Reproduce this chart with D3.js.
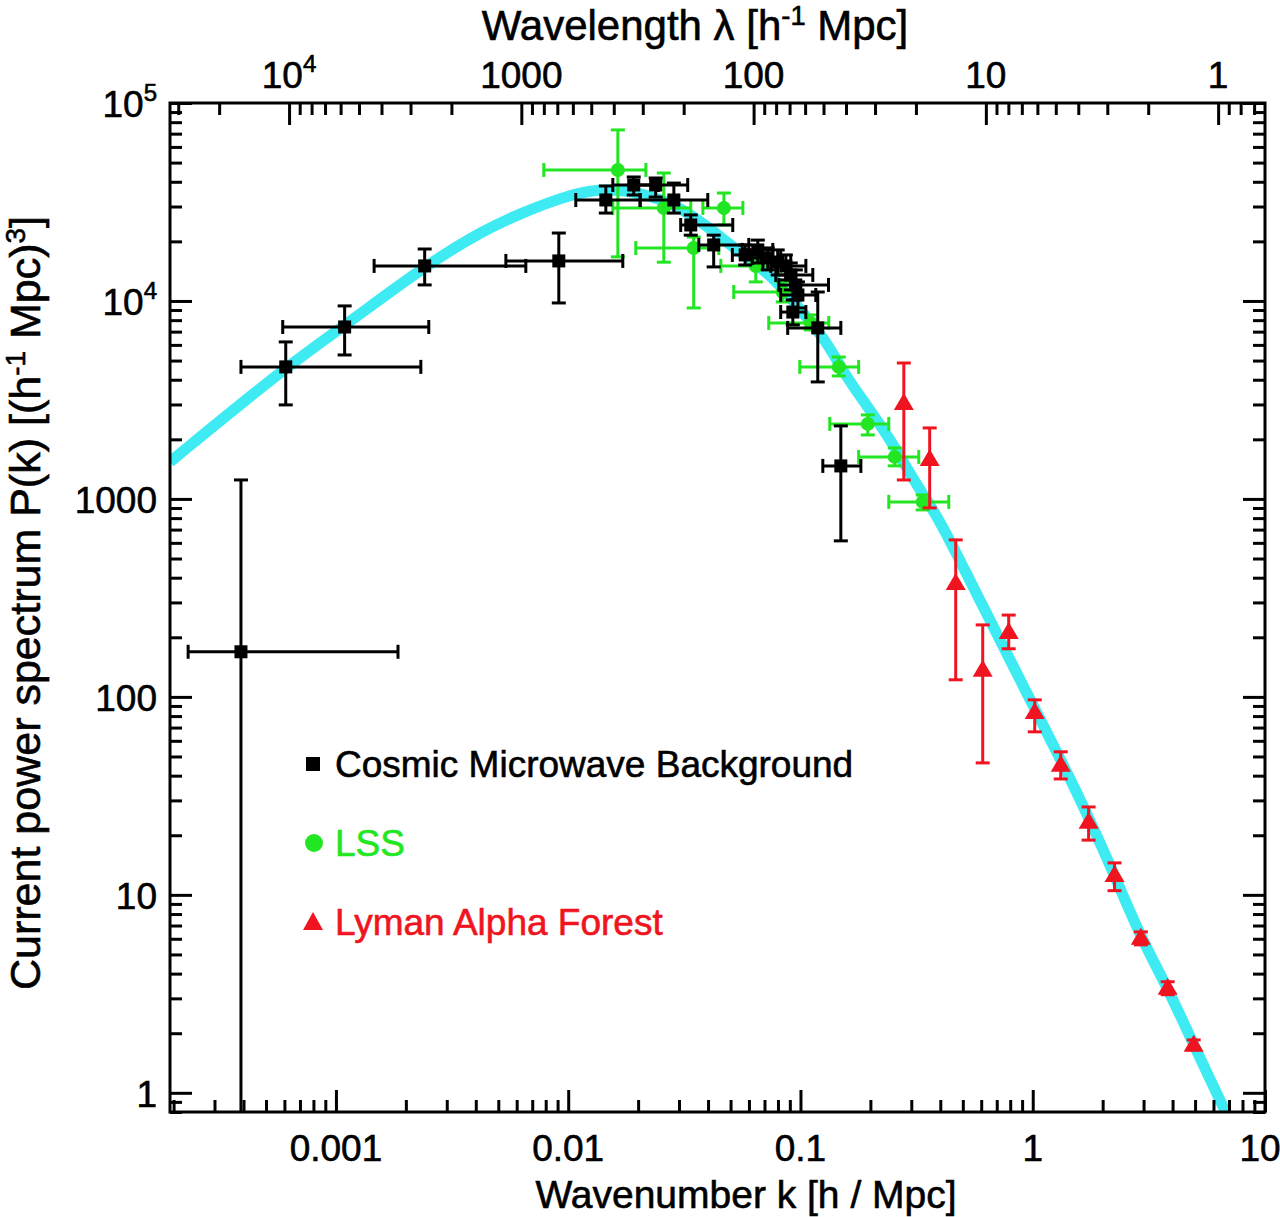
<!DOCTYPE html>
<html><head><meta charset="utf-8">
<script src="https://cdn.jsdelivr.net/npm/d3@7"></script>
<style>body{margin:0;background:#fff}svg{display:block}text{font-family:"Liberation Sans",Arial,Helvetica,sans-serif;stroke-width:0.6px}</style>
</head><body><svg id="c" width="1280" height="1217"></svg>
<script>
// ---- data ----
const curveK = [1.93e-4, 6.08e-4, 1.09e-3, 2.41e-3, 4.335e-3, 6.31e-3, 9.2e-3, 0.01355, 0.0205, 0.0305, 0.0399, 0.0553, 0.0767, 0.1, 0.1311, 0.1536, 0.1818, 0.2446, 0.2896, 0.3532, 0.4013, 0.591, 1.02, 1.562, 2.25, 2.92, 3.81, 4.93, 6.77, 7.3];
const curveP = [1538, 4645, 7500, 15030, 22860, 27800, 33110, 37200, 35540, 29850, 23650, 17470, 13210, 9000, 6134, 4326, 3273, 1986, 1400, 966, 765, 309, 87, 32.7, 12.6, 6.07, 3.39, 1.75, 0.80, 0.66];

const cmbK   = [3.90e-4, 6.08e-4, 1.09e-3, 2.41e-3, 9.11e-3, 0.01452, 0.01915, 0.0238, 0.0285, 0.0337, 0.0423, 0.0578, 0.0655, 0.0723, 0.0798, 0.0865, 0.0908, 0.0955, 0.0975, 0.0927, 0.1187, 0.1492];
const cmbP   = [169, 4645, 7390, 15030, 15930, 32370, 38540, 38540, 32370, 24200, 19190, 17080, 18110, 16490, 15730, 15030, 13530, 12050, 10720, 8790, 7310, 1468];
const cmbKlo = [2.31e-4, 3.90e-4, 5.9e-4, 1.46e-3, 5.39e-3, 0.01078, 0.01556, 0.0191, 0.0204, 0.0305, 0.0365, 0.0509, 0.0562, 0.0621, 0.0689, 0.0745, 0.0783, 0.0807, 0.0822, 0.0822, 0.0881, 0.1248];
const cmbKhi = [1.85e-3, 2.32e-3, 2.51e-3, 6.57e-3, 0.01718, 0.0204, 0.0245, 0.0327, 0.0399, 0.0511, 0.0599, 0.0675, 0.0760, 0.0822, 0.0908, 0.1055, 0.113, 0.132, 0.1164, 0.1055, 0.1492, 0.182];
const cmbPlo = [0.01, 2985, 5336, 12050, 9770, 27800, 34300, 33500, 27800, 21500, 14860, 15200, 15560, 14350, 13530, 12770, 11370, 10120, 9220, 7570, 3900, 614];
const cmbPhi = [1247, 6210, 9440, 18300, 22040, 38100, 42300, 41800, 39400, 27200, 21500, 19190, 20300, 18530, 18110, 17080, 15560, 14350, 12480, 10120, 11100, 2338];

const lssK   = [0.01636, 0.0258, 0.0347, 0.0468, 0.0642, 0.0839, 0.1107, 0.1462, 0.195, 0.2547, 0.336];
const lssP   = [45900, 29500, 18500, 29500, 15030, 11100, 7745, 4645, 2393, 1630, 966];
const lssKlo = [7.85e-3, 0.01556, 0.01954, 0.038, 0.0454, 0.0516, 0.0730, 0.0993, 0.1337, 0.178, 0.240];
const lssKhi = [0.0216, 0.0337, 0.0445, 0.0565, 0.0822, 0.0955, 0.1324, 0.178, 0.240, 0.323, 0.435];
const lssPlo = [16700, 15700, 9220, 24200, 12480, 9886, 7140, 4180, 2105, 1469, 880];
const lssPhi = [73100, 44300, 21040, 35100, 17700, 12480, 8500, 5210, 2656, 1811, 1047];

const lyaK   = [0.2786, 0.360, 0.466, 0.609, 0.788, 1.02, 1.32, 1.74, 2.25, 2.92, 3.81, 4.93];
const lyaP   = [3055, 1592, 376, 137, 213, 84, 45.4, 23.4, 12.6, 6.07, 3.39, 1.75];
const lyaPlo = [1247, 901, 122, 46.4, 175, 66.6, 38.5, 18.9, 10.5, 5.59, 3.13, 1.65];
const lyaPhi = [4860, 2284, 621, 231, 259, 96.6, 52.8, 27.8, 14.5, 6.5, 3.64, 1.85];

const xTickValues = [0.001, 0.01, 0.1, 1, 10];
const xTickLabels = ["0.001", "0.01", "0.1", "1", "10"];
const yTickValues = [1, 10, 100, 1000, 1e4, 1e5];
const yTickLabels = [["1",""], ["10",""], ["100",""], ["1000",""], ["10","4"], ["10","5"]];
const lamTickValues = [1e4, 1000, 100, 10, 1];
const lamTickLabels = [["10","4"], ["1000",""], ["100",""], ["10",""], ["1",""]];

const legendNames = ["Cosmic Microwave Background", "LSS", "Lyman Alpha Forest"];
const COL = {cmb:"#000000", lss:"#22e622", lya:"#f01420", curve:"#3febf3"};

// ---- layout ----
const W=1280, H=1217, L=170, R=1265, T=103, B=1112;
const FS=37;
const svg=d3.select("#c");
svg.append("rect").attr("width",W).attr("height",H).attr("fill","#fff");
svg.append("defs").append("clipPath").attr("id","clip").append("rect")
  .attr("x",L).attr("y",T).attr("width",R-L).attr("height",B-T);

const x=d3.scaleLog().domain([1.93e-4,10]).range([L,R]);
const y=d3.scaleLog().domain([0.8,1e5]).range([B,T]);
const xl=d3.scaleLog().domain([2*Math.PI/1.93e-4, 2*Math.PI/10]).range([L,R]);

const isMajor=v=>Math.abs(Math.log10(v)-Math.round(Math.log10(v)))<1e-6;

// ---- curve ----
const plot=svg.append("g").attr("clip-path","url(#clip)");
plot.append("path")
  .datum(curveK.map((k,i)=>({k,p:curveP[i]})))
  .attr("fill","none").attr("stroke",COL.curve).attr("stroke-width",11)
  .attr("d",d3.line().x(d=>x(d.k)).y(d=>y(d.p)).curve(d3.curveBasis));

// ---- error bars & markers ----
const CAP=7;
function errs(ks,ps,klo,khi,plo,phi,color){
  const g=plot.append("g").attr("stroke",color).attr("stroke-width",3).attr("fill","none");
  ks.forEach((k,i)=>{
    const cx=x(k), cy=y(ps[i]);
    if(klo && khi){
      const a=x(klo[i]), b=x(khi[i]);
      g.append("line").attr("x1",a).attr("x2",b).attr("y1",cy).attr("y2",cy);
      g.append("line").attr("x1",a).attr("x2",a).attr("y1",cy-CAP).attr("y2",cy+CAP);
      g.append("line").attr("x1",b).attr("x2",b).attr("y1",cy-CAP).attr("y2",cy+CAP);
    }
    const t=y(phi[i]), u=y(plo[i]);
    g.append("line").attr("x1",cx).attr("x2",cx).attr("y1",t).attr("y2",u);
    g.append("line").attr("x1",cx-CAP).attr("x2",cx+CAP).attr("y1",t).attr("y2",t);
    g.append("line").attr("x1",cx-CAP).attr("x2",cx+CAP).attr("y1",u).attr("y2",u);
  });
}
errs(lssK,lssP,lssKlo,lssKhi,lssPlo,lssPhi,COL.lss);
plot.append("g").selectAll("circle").data(lssK).join("circle")
  .attr("cx",d=>x(d)).attr("cy",(d,i)=>y(lssP[i])).attr("r",7).attr("fill",COL.lss);

errs(cmbK,cmbP,cmbKlo,cmbKhi,cmbPlo,cmbPhi,COL.cmb);
plot.append("g").selectAll("rect").data(cmbK).join("rect")
  .attr("x",d=>x(d)-6.5).attr("y",(d,i)=>y(cmbP[i])-6.5).attr("width",13).attr("height",13).attr("fill",COL.cmb);

errs(lyaK,lyaP,null,null,lyaPlo,lyaPhi,COL.lya);
const tri="M0,-10L10,7L-10,7Z";
plot.append("g").selectAll("path").data(lyaK).join("path")
  .attr("transform",(d,i)=>`translate(${x(d)},${y(lyaP[i])})`).attr("d",tri).attr("fill",COL.lya);

// ---- axes (ticks inward) ----
function styleAx(g){g.select(".domain").remove();g.selectAll(".tick line").attr("stroke","#000").attr("stroke-width",3);g.selectAll(".tick text").remove();}
const xMinor=x.ticks().filter(v=>!isMajor(v));
const yMinor=y.ticks().filter(v=>!isMajor(v));
const lMinor=xl.ticks().filter(v=>!isMajor(v));
const MAJ=-22, MIN=-12;
svg.append("g").attr("transform",`translate(0,${B})`).call(d3.axisBottom(x).tickValues(xMinor).tickSizeInner(MIN).tickSizeOuter(0)).call(styleAx);
svg.append("g").attr("transform",`translate(0,${B})`).call(d3.axisBottom(x).tickValues(xTickValues).tickSizeInner(MAJ).tickSizeOuter(0)).call(styleAx);
svg.append("g").attr("transform",`translate(0,${T})`).call(d3.axisTop(xl).tickValues(lMinor).tickSizeInner(MIN).tickSizeOuter(0)).call(styleAx);
svg.append("g").attr("transform",`translate(0,${T})`).call(d3.axisTop(xl).tickValues(lamTickValues).tickSizeInner(MAJ).tickSizeOuter(0)).call(styleAx);
svg.append("g").attr("transform",`translate(${L},0)`).call(d3.axisLeft(y).tickValues(yMinor).tickSizeInner(MIN).tickSizeOuter(0)).call(styleAx);
svg.append("g").attr("transform",`translate(${L},0)`).call(d3.axisLeft(y).tickValues(yTickValues).tickSizeInner(MAJ).tickSizeOuter(0)).call(styleAx);
svg.append("g").attr("transform",`translate(${R},0)`).call(d3.axisRight(y).tickValues(yMinor).tickSizeInner(MIN).tickSizeOuter(0)).call(styleAx);
svg.append("g").attr("transform",`translate(${R},0)`).call(d3.axisRight(y).tickValues(yTickValues).tickSizeInner(MAJ).tickSizeOuter(0)).call(styleAx);
svg.append("rect").attr("x",L).attr("y",T).attr("width",R-L).attr("height",B-T)
  .attr("fill","none").attr("stroke","#000").attr("stroke-width",3);

// ---- labels ----
function label(px,py,base,sup,anchor,fs){
  const t=svg.append("text").attr("x",px).attr("y",py).attr("text-anchor",anchor).attr("font-size",fs).attr("fill","#000").attr("stroke","#000");
  t.append("tspan").text(base);
  if(sup) t.append("tspan").attr("font-size",fs*0.65).attr("dy",-fs*0.42).text(sup);
  return t;
}
xTickValues.forEach((v,i)=>label(Math.min(x(v),R-5),1161,xTickLabels[i],"", "middle",FS));
yTickValues.forEach((v,i)=>label(157,y(v)+14,yTickLabels[i][0],yTickLabels[i][1],"end",FS));
lamTickValues.forEach((v,i)=>label(xl(v),88,lamTickLabels[i][0],lamTickLabels[i][1],"middle",FS));

function title(g,parts,fs){
  parts.forEach(p=>{
    const s=g.append("tspan").text(p[0]);
    if(p[1]==="sup") s.attr("font-size",fs*0.65).attr("dy",-fs*0.36);
    if(p[1]==="down") s.attr("dy",fs*0.36);
  });
}
const tb=svg.append("text").attr("x",746).attr("y",1208).attr("text-anchor","middle").attr("font-size",39).attr("stroke","#000");
title(tb,[["Wavenumber k [h / Mpc]"]],39);
const tt=svg.append("text").attr("x",695).attr("y",40).attr("text-anchor","middle").attr("font-size",42).attr("stroke","#000");
title(tt,[["Wavelength λ [h"],["-1","sup"],[" Mpc]","down"]],42);
const tl=svg.append("text").attr("transform","translate(40,603) rotate(-90)").attr("text-anchor","middle").attr("font-size",43).attr("stroke","#000");
title(tl,[["Current power spectrum P(k) [(h"],["-1","sup"],[" Mpc)","down"],["3","sup"],["]","down"]],43);

// ---- legend ----
const lg=svg.append("g");
const ly=[764,843,922];
lg.append("rect").attr("x",313-7).attr("y",ly[0]-7).attr("width",14).attr("height",14).attr("fill",COL.cmb);
lg.append("circle").attr("cx",314).attr("cy",ly[1]).attr("r",9).attr("fill",COL.lss);
lg.append("path").attr("transform",`translate(313,${ly[2]})`).attr("d","M0,-10L10,8L-10,8Z").attr("fill",COL.lya);
const lcol=[COL.cmb,COL.lss,COL.lya];
legendNames.forEach((n,i)=>lg.append("text").attr("x",335).attr("y",ly[i]+13).attr("font-size",FS).attr("fill",lcol[i]).attr("stroke",lcol[i]).text(n));
</script></body></html>
